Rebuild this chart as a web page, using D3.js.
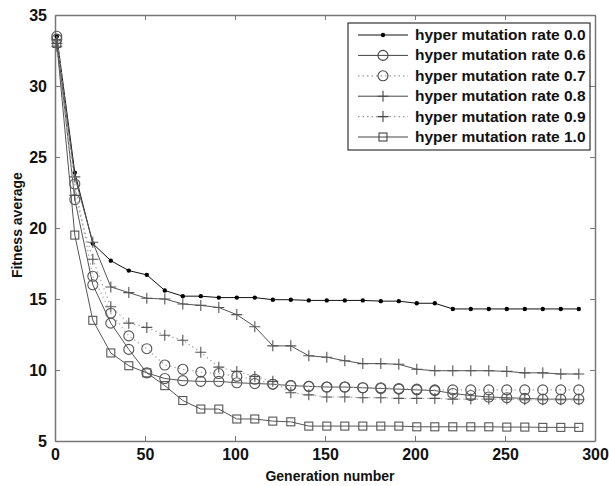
<!DOCTYPE html>
<html>
<head>
<meta charset="utf-8">
<script src="https://cdn.jsdelivr.net/npm/d3@7"></script>
<style>
  body { margin: 0; background: #fff; }
  text { font-family: "Liberation Sans", Arial, sans-serif; font-weight: bold; fill: #111; }
</style>
</head>
<body>
<div id="chart"></div>
<script>
// generation numbers where points were recorded
const generations = [1, 11, 21, 31, 41, 51, 61, 71, 81, 91, 101, 111, 121, 131, 141,
  151, 161, 171, 181, 191, 201, 211, 221, 231, 241, 251, 261, 271, 281, 291];

const rate00 = [33.5, 23.9, 18.9, 17.7, 17.0, 16.7, 15.6, 15.2, 15.2, 15.1, 15.1, 15.1, 14.95, 14.95, 14.9,
  14.9, 14.9, 14.9, 14.85, 14.85, 14.7, 14.7, 14.3, 14.3, 14.3, 14.3, 14.3, 14.3, 14.3, 14.3];
const rate06 = [33.3, 22.0, 16.0, 13.3, 11.45, 9.8, 9.4, 9.25, 9.2, 9.2, 9.1, 9.05, 9.0, 8.9, 8.85,
  8.8, 8.8, 8.75, 8.7, 8.65, 8.6, 8.55, 8.35, 8.2, 8.1, 8.05, 8.0, 7.95, 7.95, 7.95];
const rate07 = [33.5, 23.1, 16.6, 14.0, 12.4, 11.5, 10.35, 10.05, 9.85, 9.75, 9.55, 9.35, 9.0, 8.9, 8.85,
  8.8, 8.8, 8.75, 8.75, 8.7, 8.65, 8.6, 8.6, 8.6, 8.6, 8.6, 8.6, 8.6, 8.6, 8.6];
const rate08 = [33.0, 23.6, 19.0, 15.85, 15.45, 15.05, 15.0, 14.65, 14.55, 14.4, 13.9, 13.05, 11.7, 11.7, 11.0,
  10.9, 10.65, 10.45, 10.45, 10.4, 10.05, 9.95, 9.95, 9.95, 9.95, 9.9, 9.8, 9.8, 9.72, 9.72];
const rate09 = [32.8, 22.3, 17.8, 14.45, 13.3, 13.0, 12.45, 12.1, 11.25, 10.2, 9.9, 9.55, 9.2, 8.4, 8.25,
  8.1, 8.1, 8.05, 8.05, 8.0, 8.0, 8.0, 7.95, 7.95, 7.95, 7.95, 7.9, 7.9, 7.9, 7.9];
const rate10 = [33.0, 19.5, 13.5, 11.2, 10.3, 9.8, 8.9, 7.85, 7.25, 7.25, 6.55, 6.55, 6.4, 6.35, 6.05,
  6.05, 6.05, 6.05, 6.05, 6.05, 6.0, 6.0, 6.0, 6.0, 6.0, 5.98, 5.98, 5.96, 5.96, 5.96];

const seriesNames = ["hyper mutation rate 0.0", "hyper mutation rate 0.6", "hyper mutation rate 0.7",
  "hyper mutation rate 0.8", "hyper mutation rate 0.9", "hyper mutation rate 1.0"];
const seriesValues = [rate00, rate06, rate07, rate08, rate09, rate10];
const seriesMarkers = ["dot", "circle", "circle", "plus", "plus", "square"];
const seriesDotted = [false, false, true, false, true, false];

const xTicks = [0, 50, 100, 150, 200, 250, 300];
const yTicks = [5, 10, 15, 20, 25, 30, 35];

const width = 609;
const height = 486;
const margin = { top: 15, right: 14, bottom: 45, left: 55 };

const svg = d3.select("#chart").append("svg")
  .attr("width", width)
  .attr("height", height);

const xScale = d3.scaleLinear().domain([0, 300]).range([margin.left, width - margin.right]);
const yScale = d3.scaleLinear().domain([5, 35]).range([height - margin.bottom, margin.top]);

const frameColor = "#777";

// axes, MATLAB style: ticks pointing inward on all four sides
const axes = [
  { axis: d3.axisBottom(xScale).tickValues(xTicks), pos: `translate(0,${yScale(5)})`, labels: true },
  { axis: d3.axisTop(xScale).tickValues(xTicks), pos: `translate(0,${yScale(35)})`, labels: false },
  { axis: d3.axisLeft(yScale).tickValues(yTicks), pos: `translate(${xScale(0)},0)`, labels: true },
  { axis: d3.axisRight(yScale).tickValues(yTicks), pos: `translate(${xScale(300)},0)`, labels: false },
];
axes.forEach((a) => {
  const g = svg.append("g")
    .attr("transform", a.pos)
    .call(a.axis.tickSizeInner(-5).tickSizeOuter(0).tickPadding(8)
      .tickFormat(a.labels ? d3.format("d") : ""));
  g.select(".domain").attr("stroke", frameColor).attr("stroke-width", 1.5);
  g.selectAll(".tick line").attr("stroke", frameColor);
  g.selectAll(".tick text")
    .attr("font-size", 16)
    .attr("font-weight", "bold")
    .attr("font-family", "Liberation Sans, Arial, sans-serif")
    .attr("fill", "#111");
});

svg.append("text")
  .attr("x", (xScale(0) + xScale(300)) / 2 + 5)
  .attr("y", 481)
  .attr("text-anchor", "middle")
  .attr("font-size", 14)
  .text("Generation number");

svg.append("text")
  .attr("transform", `translate(22,${yScale(20.2)}) rotate(-90)`)
  .attr("text-anchor", "middle")
  .attr("font-size", 14)
  .text("Fitness average");

function drawMarker(g, type, x, y, color) {
  if (type === "dot") {
    g.append("circle").attr("cx", x).attr("cy", y).attr("r", 2.2).attr("fill", "#000");
  } else if (type === "circle") {
    g.append("circle").attr("cx", x).attr("cy", y).attr("r", 5)
      .attr("fill", "none").attr("stroke", color).attr("stroke-width", 1.1);
  } else if (type === "square") {
    g.append("rect").attr("x", x - 4).attr("y", y - 4).attr("width", 8).attr("height", 8)
      .attr("fill", "none").attr("stroke", color).attr("stroke-width", 1.1);
  } else if (type === "plus") {
    g.append("path").attr("d", `M${x - 5.5},${y}H${x + 5.5}M${x},${y - 5.5}V${y + 5.5}`)
      .attr("stroke", color).attr("stroke-width", 1.1);
  }
}

const line = d3.line()
  .x((d) => xScale(d[0]))
  .y((d) => yScale(d[1]));

const plot = svg.append("g");
seriesValues.forEach((vals, i) => {
  const pts = generations.map((gen, j) => [gen, vals[j]]);
  const color = i === 0 ? "#111" : "#555";
  plot.append("path")
    .datum(pts)
    .attr("fill", "none")
    .attr("stroke", seriesDotted[i] ? "#aaa" : color)
    .attr("stroke-width", seriesDotted[i] ? 1.2 : 1)
    .attr("stroke-dasharray", seriesDotted[i] ? "1.5,3" : null)
    .attr("d", line);
  const mg = plot.append("g");
  pts.forEach((p) => drawMarker(mg, seriesMarkers[i], xScale(p[0]), yScale(p[1]), color));
});

// legend
const legend = svg.append("g").attr("transform", "translate(348,23)");
legend.append("rect")
  .attr("width", 242).attr("height", 127)
  .attr("fill", "#fff").attr("stroke", "#333").attr("stroke-width", 1.2);
seriesNames.forEach((name, i) => {
  const y = 12 + i * 20.4;
  const color = i === 0 ? "#111" : "#444";
  legend.append("line")
    .attr("x1", 10).attr("x2", 60).attr("y1", y).attr("y2", y)
    .attr("stroke", seriesDotted[i] ? "#999" : color)
    .attr("stroke-width", seriesDotted[i] ? 1.2 : 1)
    .attr("stroke-dasharray", seriesDotted[i] ? "1.5,3" : null);
  drawMarker(legend, seriesMarkers[i], 35, y, color);
  legend.append("text")
    .attr("x", 67).attr("y", y + 5)
    .attr("font-size", 15.5)
    .text(name);
});
</script>
</body>
</html>
